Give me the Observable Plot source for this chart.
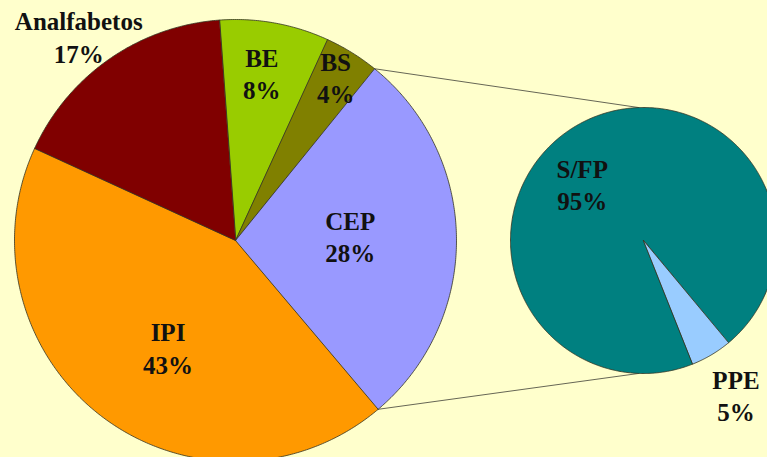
<!DOCTYPE html>
<html><head><meta charset="utf-8">
<script src="https://cdn.jsdelivr.net/npm/d3@7"></script>
<script src="https://cdn.jsdelivr.net/npm/@observablehq/plot@0.6"></script>
<style>html,body{margin:0;padding:0;background:#FFFFCC;overflow:hidden}</style>
</head><body><div id="chart"></div>
<script>
// ---- data ----
const mainCategories = ["BE", "BS", "CEP", "IPI", "Analfabetos"];
const mainValues = [8, 4, 28, 43, 17];
const subCategories = ["S/FP", "PPE"];
const subValues = [95, 5];
const expandedCategory = "CEP";

// ---- styles / layout ----
const colorMap = {
  "BE": "#99CC00", "BS": "#808000", "CEP": "#9999FF", "IPI": "#FF9900",
  "Analfabetos": "#800000", "S/FP": "#008080", "PPE": "#99CCFF"
};
const W = 767, H = 457;
const mainPie = {cx: 235, cy: 240, r: 221, start: -4.2};
const subPie = {cx: 643, cy: 240, r: 133, start: 158.2};
// label placement: [angle in degrees clockwise from top, distance / radius]
const labelPlace = {
  "BE": [8.9, 0.77], "BS": [31.4, 0.87], "CEP": [87.5, 0.52], "IPI": [212.4, 0.57],
  "Analfabetos": [322.5, 1.165], "S/FP": [313, 0.63], "PPE": [149, 1.35]
};

const rad = a => a * Math.PI / 180;
const pt = (p, a, k = 1) => [p.cx + k * p.r * Math.sin(rad(a)), p.cy - k * p.r * Math.cos(rad(a))];

function slices(pie, cats, vals) {
  const total = d3.sum(vals);
  let a = pie.start;
  return cats.map((name, i) => {
    const a0 = a, a1 = a + vals[i] / total * 360;
    a = a1;
    return {name, value: vals[i], a0, a1, pie};
  });
}
function polygons(sl) {
  const out = [];
  for (const s of sl) {
    const [x0, y0] = [s.pie.cx, s.pie.cy];
    out.push({name: s.name, x: x0, y: y0});
    const n = Math.max(2, Math.ceil((s.a1 - s.a0) / 0.5));
    for (let j = 0; j <= n; j++) {
      const [x, y] = pt(s.pie, s.a0 + (s.a1 - s.a0) * j / n);
      out.push({name: s.name, x, y});
    }
  }
  return out;
}

const mainSlices = slices(mainPie, mainCategories, mainValues);
const subSlices = slices(subPie, subCategories, subValues);
const allPts = polygons(mainSlices).concat(polygons(subSlices));

const exp = mainSlices.find(s => s.name === expandedCategory);
const connectors = [
  {id: "top", p: pt(mainPie, exp.a0), q: pt(subPie, -2)},
  {id: "bottom", p: pt(mainPie, exp.a1), q: pt(subPie, 182)}
].flatMap(c => [{id: c.id, x: c.p[0], y: c.p[1]}, {id: c.id, x: c.q[0], y: c.q[1]}]);

const labels = mainSlices.concat(subSlices).map(s => {
  const [a, k] = labelPlace[s.name];
  const [x, y] = pt(s.pie, a, k);
  return {x, y, text: `${s.name}\n${s.value}%`};
});

const allCats = mainCategories.concat(subCategories);

const chart = Plot.plot({
  width: W, height: H,
  marginTop: 0, marginRight: 0, marginBottom: 0, marginLeft: 0,
  x: {domain: [0, W], range: [0, W], axis: null},
  y: {domain: [0, H], range: [0, H], axis: null},
  color: {domain: allCats, range: allCats.map(c => colorMap[c])},
  style: {background: "#FFFFCC", overflow: "hidden"},
  marks: [
    Plot.line(connectors, {x: "x", y: "y", z: "id", stroke: "#666655", strokeWidth: 1, clip: true}),
    Plot.line(allPts, {x: "x", y: "y", z: "name", fill: "name", stroke: "#333322",
      strokeWidth: 0.8, curve: "linear-closed", clip: true}),
    Plot.text(labels, {x: "x", y: "y", text: "text", fontSize: 25, fontWeight: "bold",
      fontFamily: "'Liberation Serif', 'Times New Roman', serif", lineHeight: 1.3, fill: "#111"})
  ]
});
document.getElementById("chart").append(chart);
</script>
</body></html>
